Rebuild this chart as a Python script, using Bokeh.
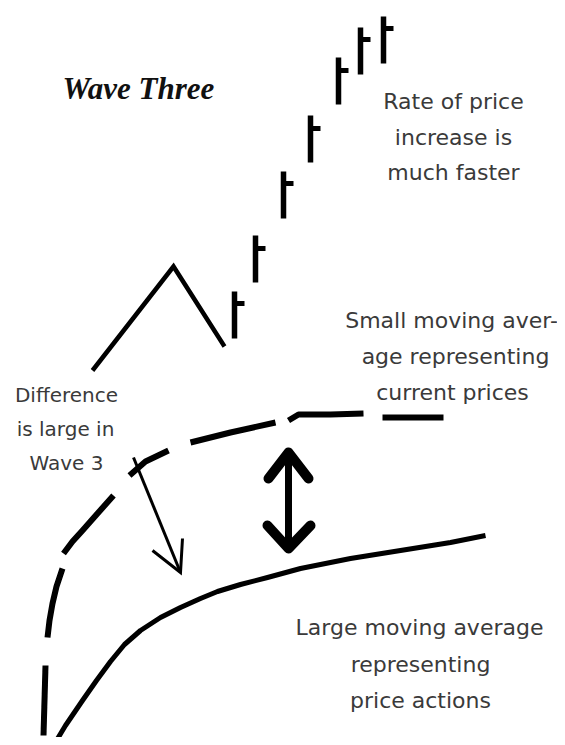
from bokeh.plotting import figure
from bokeh.models import Range1d
from bokeh.core.properties import value
from bokeh.embed import file_html
from bokeh.resources import INLINE

# ---- data (diagram units; y grows downward) ----
# price bars of wave three
bar_x = [234, 255, 283, 310, 338, 360, 383]
bar_high = [291, 235, 171, 115, 57, 27, 16]
bar_low = [338, 282, 218, 162, 104, 74, 63]
bar_close = [303, 248, 183, 128, 70, 39, 28]

# waves one and two (zigzag)
zig_x = [92, 173, 224]
zig_y = [370, 266, 346]

# small moving average, drawn as hand-made dashes
small_ma_x = [
    [43, 44, 45],
    [47, 49, 52, 56, 62],
    [63, 72, 82, 97, 113],
    [129, 145, 168],
    [190, 230, 275],
    [288, 298, 330, 363],
    [382, 443],
]
small_ma_y = [
    [735, 700, 665],
    [637, 620, 603, 586, 568],
    [553, 541, 530, 513, 495],
    [475, 461, 450],
    [442, 432, 422],
    [420, 414, 414, 413],
    [417, 417],
]

# large moving average
large_ma_x = [53, 65, 82, 96, 110, 124, 140, 160, 180, 200, 217, 240, 267,
               300, 350, 400, 450, 485]
large_ma_y = [745, 725, 700, 680, 661, 644, 630, 617, 607, 598, 591, 584, 577,
               568, 558, 550, 542, 535]

# pointer arrow (difference is large)
ptr_x = [133, 180]
ptr_y = [457, 572]
ptr_head_x = [152, 180, 182]
ptr_head_y = [550, 572, 538]

# double arrow between averages
dbl_x = [288, 288]
dbl_y = [452, 548]
dbl_top_x = [268, 288, 308]
dbl_top_y = [478, 452, 478]
dbl_bot_x = [267, 288, 310]
dbl_bot_y = [525, 548, 525]

# labels
title_text = ["Wave Three"]
title_x = [62]
title_y = [88]

note_text = [
    "Rate of price", "increase is", "much faster",
    "Small moving aver-", "age representing", "current prices",
    "Large moving average", "representing", "price actions",
]
note_x = [453, 453, 453, 451, 455, 452, 419, 420, 420]
note_y = [101, 137, 172, 320, 356, 392, 627, 664, 700]

diff_text = ["Difference", "is large in", "Wave 3"]
diff_x = [66, 65, 66]
diff_y = [394, 428, 462]

TICK = 10

p = figure(width=557, height=737, output_backend="svg", toolbar_location=None,
           x_range=Range1d(0, 557), y_range=Range1d(737, 0),
           x_axis_location=None, y_axis_location=None, min_border=0)
p.grid.visible = False
p.outline_line_color = None
p.background_fill_color = "white"
p.border_fill_color = "white"

INK = "#000000"

# bars
p.segment(x0=bar_x, y0=bar_high, x1=bar_x, y1=bar_low,
          line_color=INK, line_width=5.5, line_cap="butt")
p.segment(x0=bar_x, y0=bar_close, x1=[x + TICK for x in bar_x], y1=bar_close,
          line_color=INK, line_width=5, line_cap="butt")

# zigzag
p.line(zig_x, zig_y, line_color=INK, line_width=4.5, line_join="miter")

# small moving average
p.multi_line(small_ma_x, small_ma_y, line_color=INK, line_width=6, line_cap="butt",
             line_join="round")

# large moving average
p.line(large_ma_x, large_ma_y, line_color=INK, line_width=5, line_join="round")

# pointer arrow
p.line(ptr_x, ptr_y, line_color=INK, line_width=3)
p.line(ptr_head_x, ptr_head_y, line_color=INK, line_width=3, line_join="miter")

# double arrow
p.line(dbl_x, dbl_y, line_color=INK, line_width=7, line_cap="round")
p.line(dbl_top_x, dbl_top_y, line_color=INK, line_width=10, line_cap="round",
       line_join="round")
p.line(dbl_bot_x, dbl_bot_y, line_color=INK, line_width=10, line_cap="round",
       line_join="round")

# texts
p.text(x=title_x, y=title_y, text=title_text, text_font=value("Liberation Serif"),
       text_font_style="bold italic", text_font_size="31px", text_color="#111111",
       text_align="left", text_baseline="alphabetic")
p.text(x=note_x, y=note_y, text=note_text, text_font=value("DejaVu Sans"),
       text_font_size="22px", text_color="#3a3a3a",
       text_align="center", text_baseline="alphabetic")
p.text(x=diff_x, y=diff_y, text=diff_text, text_font=value("DejaVu Sans"),
       text_font_size="20px", text_color="#3a3a3a",
       text_align="center", text_baseline="alphabetic")

open("out.html", "w").write(file_html(p, INLINE))
